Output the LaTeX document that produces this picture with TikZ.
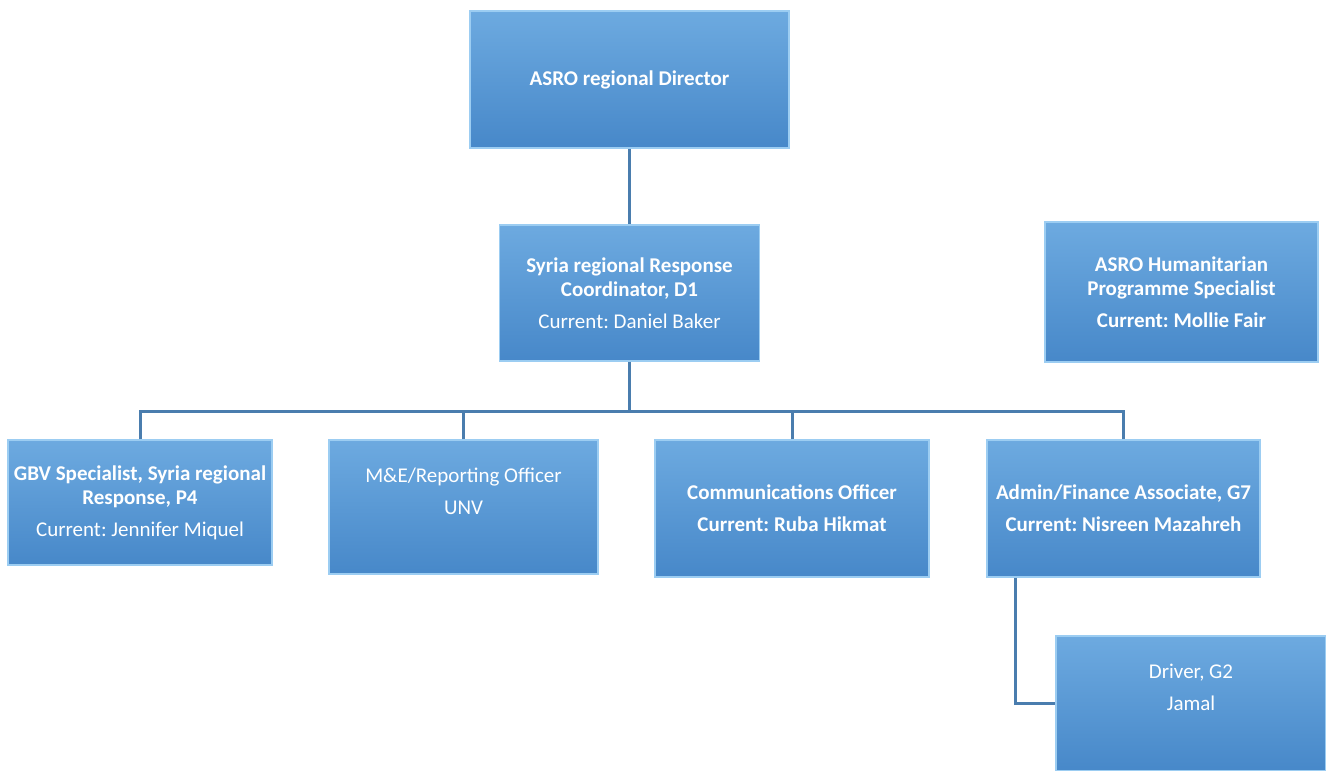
\documentclass[tikz,border=0pt]{standalone}
\usepackage{fontspec}
\setmainfont{Carlito}
\frenchspacing
\definecolor{boxtop}{HTML}{6DAAE0}
\definecolor{boxbot}{HTML}{4788C9}
\definecolor{boxrim}{HTML}{9CCDF2}
\definecolor{linkcol}{HTML}{4A7DAE}
\tikzset{
  orgbox/.style={rectangle, top color=boxtop, bottom color=boxbot, draw=boxrim,
    line width=1.5pt, text=white, align=center, inner sep=2pt,
    font=\fontsize{21}{24}\selectfont},
  link/.style={draw=linkcol, line width=3pt}
}
\begin{document}
\begin{tikzpicture}[x=1pt,y=-1pt]
        \useasboundingbox (0,0) rectangle (1326,771);
        \node[orgbox, minimum width=319, minimum height=137] (dir) at (629.5,79.5) {\bfseries ASRO regional Director};
        \node[orgbox, minimum width=260, minimum height=136] (coord) at (629.5,293)
          {\bfseries Syria regional Response\\\bfseries Coordinator, D1\\[8pt]Current: Daniel Baker};
        \node[orgbox, minimum width=273, minimum height=140] (hum) at (1181.5,292)
          {\bfseries ASRO Humanitarian\\\bfseries Programme Specialist\\[8pt]\bfseries Current: Mollie Fair};
        \node[orgbox, minimum width=264, minimum height=125, inner sep=0pt] (gbv) at (140,502.5)
          {\bfseries GBV Specialist, Syria regional\\\bfseries Response, P4\\[8pt]Current: Jennifer Miquel};
        \node[orgbox, minimum width=269, minimum height=134] (me) at (463.5,507)
          {M\&E/Reporting Officer\\[8pt]UNV\\[8pt]~};
        \node[orgbox, minimum width=274, minimum height=137] (comm) at (792,508.5)
          {\bfseries Communications Officer\\[8pt]\bfseries Current: Ruba Hikmat};
        \node[orgbox, minimum width=273, minimum height=137] (adm) at (1123.5,508.5)
          {\bfseries Admin/Finance Associate, G7\\[8pt]\bfseries Current: Nisreen Mazahreh};
        \node[orgbox, minimum width=270, minimum height=135] (drv) at (1191,703.5)
          {Driver, G2\\[8pt]Jamal\\[8pt]~};
        % links
        \coordinate (bus) at (629.5,411);
        \draw[link] (dir) -- (coord);
        \draw[link] (coord.south) -- (bus);
        \foreach \n in {gbv,me,comm,adm}{
          \draw[link] (\n.north) |- (bus);
        }
        \draw[link] ([xshift=-108.5]adm.south) |- (drv.west);
      \end{tikzpicture}
\end{document}
